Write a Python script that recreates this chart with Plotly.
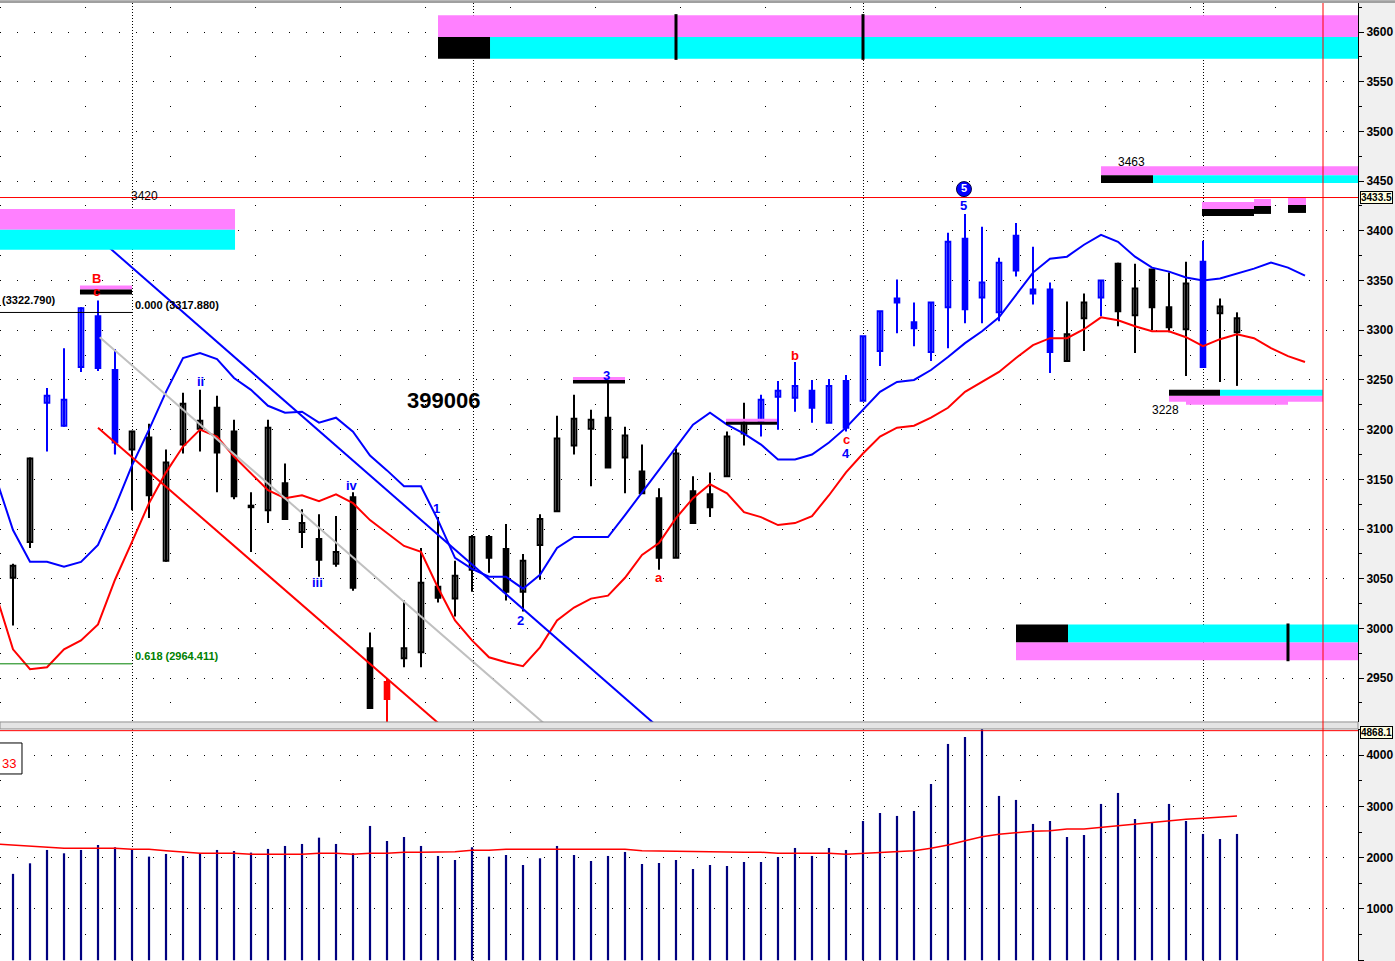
import plotly.graph_objects as go

# ---------------- data ----------------
bar_index = list(range(73))
open_px = [3051, 3087, 3227, 3204, 3263, 3314, 3260, 3180, 3192, 3068,
           3185, 3201, 3222, 3198, 3123, 3119, 3146, 3097, 3090, 3065,
           3132, 2980, 2946, 2970, 2976, 3042, 3030, 3059, 3092, 3080,
           3037, 3084, 3118, 3184, 3201, 3212, 3172, 3158, 3131, 3071,
           3138, 3135, 3153, 3196, 3207, 3233, 3232, 3239, 3207, 3249,
           3229, 3279, 3332, 3308, 3278, 3323, 3392, 3333, 3318, 3395,
           3341, 3341, 3269, 3312, 3333, 3367, 3315, 3361, 3323, 3301,
           3369, 3317, 3298]
high_px = [3065, 3172, 3242, 3282, 3323, 3330, 3281, 3199, 3206, 3180,
           3237, 3240, 3234, 3210, 3137, 3210, 3166, 3120, 3115, 3113,
           3137, 2996, 2950, 3028, 3081, 3112, 3068, 3094, 3094, 3105,
           3075, 3115, 3214, 3235, 3220, 3250, 3203, 3185, 3141, 3181,
           3153, 3157, 3198, 3227, 3235, 3249, 3268, 3250, 3251, 3255,
           3294, 3319, 3351, 3328, 3328, 3398, 3417, 3404, 3373, 3408,
           3384, 3348, 3329, 3337, 3350, 3368, 3367, 3361, 3358, 3369,
           3390, 3332, 3318]
low_px = [3003, 3081, 3178, 3203, 3258, 3259, 3175, 3119, 3111, 3067,
          3176, 3178, 3137, 3130, 3077, 3106, 3109, 3081, 3052, 3062,
          3038, 2919, 2900, 2961, 2961, 3026, 3012, 3037, 3056, 3028,
          3017, 3049, 3118, 3175, 3143, 3162, 3136, 3136, 3059, 3071,
          3106, 3112, 3153, 3184, 3193, 3200, 3218, 3207, 3207, 3198,
          3229, 3264, 3297, 3284, 3269, 3282, 3307, 3307, 3309, 3354,
          3326, 3257, 3269, 3279, 3314, 3304, 3277, 3300, 3298, 3254,
          3262, 3248, 3244]
close_px = [3063, 3171, 3234, 3230, 3322, 3262, 3187, 3198, 3134, 3167,
            3226, 3209, 3177, 3133, 3122, 3202, 3110, 3106, 3069, 3077,
            3041, 2920, 2929, 2980, 3046, 3031, 3053, 3092, 3071, 3037,
            3068, 3110, 3191, 3211, 3210, 3162, 3194, 3136, 3071, 3176,
            3106, 3122, 3193, 3207, 3230, 3239, 3244, 3222, 3244, 3202,
            3294, 3319, 3328, 3302, 3328, 3389, 3321, 3348, 3368, 3360,
            3337, 3278, 3296, 3328, 3350, 3319, 3342, 3323, 3303, 3347,
            3263, 3324, 3312]
# k = black, b = blue, r = red
candle_color = ("kk" + "bbbbb" + "kkkkkkkkkkkkkkk" + "r" + "kkkkkkkkkkkkkkkkkkkkk"
                + "bbbbbbbbbbbbbbbbbb" + "kk" + "b" + "kkkkk" + "b" + "kk")

ma_index = list(range(-1, 77))
upper_ma = [3151, 3099, 3067, 3067, 3062, 3067, 3084, 3122, 3164, 3200,
            3238, 3272, 3277, 3271, 3252, 3240, 3224, 3217, 3218, 3207,
            3212, 3198, 3174, 3159, 3143, 3143, 3109, 3071, 3060, 3052,
            3052, 3040, 3054, 3081, 3092, 3092, 3092, 3114, 3137, 3159,
            3182, 3205, 3217, 3205, 3196, 3185, 3170, 3170, 3175, 3187,
            3202, 3220, 3238, 3248, 3250, 3260, 3273, 3287, 3299, 3313,
            3336, 3358, 3372, 3374, 3386, 3396, 3389, 3374, 3363, 3359,
            3353, 3350, 3352, 3357, 3362, 3368, 3363, 3355]
lower_ma = [3034, 2979, 2959, 2961, 2979, 2988, 3004, 3049, 3087, 3126,
            3157, 3183, 3200, 3193, 3173, 3156, 3139, 3131, 3134, 3128,
            3135, 3126, 3109, 3096, 3083, 3077, 3041, 3008, 2988, 2971,
            2966, 2962, 2981, 3008, 3021, 3030, 3033, 3051, 3074, 3086,
            3111, 3131, 3145, 3136, 3117, 3112, 3104, 3106, 3113, 3134,
            3157, 3176, 3193, 3202, 3204, 3212, 3222, 3238, 3248, 3258,
            3272, 3285, 3292, 3292, 3301, 3313, 3310, 3304, 3299, 3299,
            3293, 3284, 3291, 3296, 3292, 3282, 3274, 3268]

volume = [1684, 1890, 2150, 2085, 2150, 2247, 2202, 2150, 2020, 2072,
          2033, 2085, 2150, 2130, 2098, 2170, 2228, 2267, 2390, 2267,
          2085, 2618, 2325, 2403, 2228, 2033, 1955, 2202, 2020, 2052,
          1857, 1988, 2228, 2052, 1935, 2033, 2111, 1877, 1896, 1955,
          1779, 1857, 1838, 1916, 1916, 2013, 2189, 2033, 2189, 2150,
          2715, 2871, 2813, 2910, 3436, 4216, 4352, 4650, 3203, 3125,
          2657, 2715, 2403, 2442, 3047, 3261, 2754, 2676, 3047, 2715,
          2462, 2364, 2462]
vol_ma_index = list(range(-1, 73))
volume_ma = [2265, 2247, 2228, 2202, 2182, 2182, 2182, 2182, 2163, 2163, 2137,
             2117, 2085, 2085, 2085, 2066, 2066, 2066, 2066, 2085, 2085,
             2066, 2085, 2085, 2105, 2105, 2117, 2117, 2144, 2144, 2163,
             2163, 2163, 2163, 2163, 2163, 2163, 2163, 2137, 2130, 2120,
             2117, 2117, 2105, 2105, 2105, 2085, 2085, 2085, 2085, 2066,
             2085, 2105, 2117, 2137, 2182, 2247, 2331, 2409, 2456, 2490,
             2515, 2525, 2559, 2559, 2592, 2620, 2645, 2680, 2720, 2748,
             2768, 2787, 2812]

# trend channel (start bar, start price, end bar, end price)
trend_lines = [
    (5.0, 3393, 38.0, 2900, "#0000ff"),
    (5.1, 3293, 31.2, 2905, "#c0c0c0"),
    (5.0, 3202, 25.0, 2905, "#ff0000"),
]

# target/support zones: bar from, bar to, price low, price high, colour
PINK, CYAN, BLACK = "#ff80ff", "#00ffff", "#000000"
RIGHT_END = 79.2
zones = [
    (25.0, RIGHT_END, 3595, 3617, PINK),
    (28.06, RIGHT_END, 3573, 3595, CYAN),
    (25.0, 28.06, 3573, 3595, BLACK),
    (-0.8, 13.06, 3401, 3422, PINK),
    (-0.8, 13.06, 3381, 3401, CYAN),
    (64.0, RIGHT_END, 3456, 3465, PINK),
    (64.0, 67.06, 3448, 3456, BLACK),
    (67.06, RIGHT_END, 3448, 3456, CYAN),
    (69.94, 73.0, 3422, 3429, PINK),
    (69.94, 73.0, 3415, 3422, BLACK),
    (73.0, 74.0, 3425, 3432, PINK),
    (73.0, 74.0, 3417, 3425, BLACK),
    (75.0, 76.06, 3426, 3434, PINK),
    (75.0, 76.06, 3418, 3426, BLACK),
    (68.0, 77.06, 3228, 3234, PINK),
    (69.0, 75.0, 3225, 3234, PINK),
    (68.0, 71.0, 3234, 3240, BLACK),
    (71.0, 77.06, 3234, 3240, CYAN),
    (59.0, RIGHT_END, 2968, 2986, PINK),
    (59.0, 62.06, 2986, 3004, BLACK),
    (62.06, RIGHT_END, 2986, 3004, CYAN),
    (3.94, 7.0, 3341, 3345, PINK),
    (3.94, 7.0, 3336, 3341, BLACK),
    (32.94, 36.0, 3250, 3253, PINK),
    (32.94, 36.0, 3246.5, 3250, BLACK),
    (41.94, 44.94, 3208, 3211, PINK),
    (41.94, 44.94, 3205, 3208, BLACK),
]
zone_ticks = [(39.0, 3572, 3618), (50.0, 3572, 3618), (75.0, 2967, 3005)]

wave_labels = [
    ("B", 4.94, 3352, "#ff0000"), ("c", 4.94, 3339, "#ff0000"),
    ("i", 6.0, 3180, "#0000ff"), ("ii", 11.0, 3248, "#0000ff"),
    ("iii", 17.94, 3046, "#0000ff"), ("iv", 19.94, 3144, "#0000ff"),
    ("1", 24.94, 3121, "#0000ff"), ("2", 29.88, 3008, "#0000ff"),
    ("3", 34.94, 3254, "#0000ff"), ("a", 38.0, 3051, "#ff0000"),
    ("b", 46.0, 3275, "#ff0000"), ("c", 49.0, 3190, "#ff0000"),
    ("4", 49.0, 3176, "#0000ff"), ("5", 55.94, 3425, "#0000ff"),
]
level_labels = [("3420", 7.76, 3435), ("3463", 65.8, 3469), ("3228", 67.8, 3220)]
fib_high, fib_618 = 3317.88, 2964.411
last_price = 3433.5
month_breaks = [7, 27.1, 50, 70]
cursor_bar = 77.06

# ---------------- figure ----------------
FONT = "Liberation Sans, Arial, sans-serif"
colmap = {"k": "#000000", "b": "#0000ff", "r": "#ff0000"}
fig = go.Figure()

# wicks
for code, col in colmap.items():
    wx, wy = [], []
    for i in bar_index:
        if candle_color[i] == code:
            wx += [i, i, None]
            wy += [low_px[i], high_px[i], None]
    fig.add_trace(go.Scatter(x=wx, y=wy, mode="lines", line=dict(color=col, width=2),
                             xaxis="x", yaxis="y"))
# bodies
for code, col in colmap.items():
    for hollow in (True, False):
        xs, bases, hs = [], [], []
        for i in bar_index:
            if candle_color[i] != code:
                continue
            if (close_px[i] > open_px[i]) != hollow:
                continue
            xs.append(i)
            bases.append(min(open_px[i], close_px[i]))
            hs.append(max(abs(close_px[i] - open_px[i]), 1.5))
        if xs:
            fig.add_trace(go.Bar(x=xs, y=hs, base=bases, width=0.27,
                                 marker=dict(color="white" if hollow else col,
                                             line=dict(color=col, width=2)),
                                 xaxis="x", yaxis="y"))

# moving averages
fig.add_trace(go.Scatter(x=ma_index, y=upper_ma, mode="lines",
                         line=dict(color="#0000ff", width=2), xaxis="x", yaxis="y"))
fig.add_trace(go.Scatter(x=ma_index, y=lower_ma, mode="lines",
                         line=dict(color="#ff0000", width=2), xaxis="x", yaxis="y"))
# trend channel
for x0, y0, x1, y1, col in trend_lines:
    fig.add_trace(go.Scatter(x=[x0, x1], y=[y0, y1], mode="lines",
                             line=dict(color=col, width=2), xaxis="x", yaxis="y"))
# fib lines
fig.add_trace(go.Scatter(x=[-0.8, 7], y=[fib_high, fib_high], mode="lines",
                         line=dict(color="black", width=1), xaxis="x", yaxis="y"))
fig.add_trace(go.Scatter(x=[-0.8, 7], y=[fib_618, fib_618], mode="lines",
                         line=dict(color="#008000", width=1), xaxis="x", yaxis="y"))

# volume
fig.add_trace(go.Bar(x=bar_index, y=volume, width=0.13, marker=dict(color="#000080", line=dict(width=0)),
                     xaxis="x2", yaxis="y2"))
fig.add_trace(go.Scatter(x=vol_ma_index, y=volume_ma, mode="lines",
                         line=dict(color="#ff0000", width=1.5), xaxis="x2", yaxis="y2"))

# circled wave 5
fig.add_trace(go.Scatter(x=[55.94], y=[3442], mode="markers+text", text=["5"],
                         textposition="middle center",
                         textfont=dict(family=FONT, size=11, color="white", weight="bold"),
                         marker=dict(size=15, color="#0000ff", line=dict(color="#000040", width=1)),
                         xaxis="x", yaxis="y"))

shapes = []
shapes.append(dict(type="rect", xref="paper", yref="paper", x0=1.0, x1=1.03, y0=0, y1=1.004,
                   fillcolor="#f0f0f0", line=dict(width=0), layer="below"))
shapes.append(dict(type="rect", xref="paper", yref="paper", x0=0, x1=1.0, y0=0.2422, y1=0.2495,
                   fillcolor="#e4e4e4", line=dict(color="#909090", width=1), layer="above"))
shapes.append(dict(type="rect", xref="paper", yref="paper", x0=0, x1=1.03, y0=1.0, y1=1.003,
                   fillcolor="#a0a0a0", line=dict(width=0)))
for x0, x1, y0, y1, col in zones:
    shapes.append(dict(type="rect", xref="x", yref="y", x0=x0, x1=x1, y0=y0, y1=y1,
                       fillcolor=col, line=dict(width=0), layer="above"))
for xt, y0, y1 in zone_ticks:
    shapes.append(dict(type="line", xref="x", yref="y", x0=xt, x1=xt, y0=y0, y1=y1,
                       line=dict(color="black", width=3)))
shapes.append(dict(type="line", xref="paper", yref="y", x0=0, x1=1, y0=last_price, y1=last_price,
                   line=dict(color="#ff0000", width=1)))
shapes.append(dict(type="line", xref="paper", yref="y2", x0=0, x1=1, y0=4475, y1=4475,
                   line=dict(color="#ff0000", width=1)))
shapes.append(dict(type="line", xref="x", yref="paper", x0=cursor_bar, x1=cursor_bar, y0=0, y1=1,
                   line=dict(color="#ff0000", width=1)))
shapes.append(dict(type="rect", xref="paper", yref="y2", x0=-0.01, x1=0.0162, y0=3631, y1=4235,
                   line=dict(color="black", width=1), fillcolor="white"))
fig.update_layout(shapes=shapes)

ann = []
for t, x, y, c in wave_labels:
    ann.append(dict(x=x, y=y, xref="x", yref="y", text=t, showarrow=False,
                    font=dict(family=FONT, size=13, color=c, weight="bold")))
for t, x, y in level_labels:
    ann.append(dict(x=x, y=y, xref="x", yref="y", text=t, showarrow=False,
                    font=dict(family=FONT, size=12, color="black")))
ann.append(dict(x=25.3, y=3229, xref="x", yref="y", text="399006", showarrow=False,
                font=dict(family=FONT, size=22, color="black", weight="bold")))
ann.append(dict(x=-0.76, y=3330, xref="x", yref="y", text="(3322.790)", showarrow=False,
                xanchor="left", font=dict(family=FONT, size=11, color="black", weight="bold")))
ann.append(dict(x=7.06, y=3325, xref="x", yref="y", text="0.000 (3317.880)", showarrow=False,
                xanchor="left", font=dict(family=FONT, size=11, color="black", weight="bold")))
ann.append(dict(x=7.06, y=2972, xref="x", yref="y", text="0.618 (2964.411)", showarrow=False,
                xanchor="left", font=dict(family=FONT, size=11, color="#008000", weight="bold")))
ann.append(dict(x=1.0015, y=last_price, xref="paper", yref="y", text="3433.5", showarrow=False,
                xanchor="left", bgcolor="#ffffe0", bordercolor="black", borderwidth=1, borderpad=0,
                font=dict(family=FONT, size=10, color="black", weight="bold")))
ann.append(dict(x=1.0015, y=4440, xref="paper", yref="y2", text="4868.1", showarrow=False,
                xanchor="left", bgcolor="#ffffe0", bordercolor="black", borderwidth=1, borderpad=0,
                font=dict(family=FONT, size=10, color="black", weight="bold")))
ann.append(dict(x=0.0, y=3830, xref="paper", yref="y2", text="33", showarrow=False,
                xanchor="left", font=dict(family=FONT, size=13, color="#ff0000")))
fig.update_layout(annotations=ann)

xcommon = dict(range=[-0.765, 79.118], showticklabels=False, ticks="", tickvals=month_breaks,
               showgrid=True, gridcolor="black", griddash="1px,2px", gridwidth=1,
               zeroline=False, showline=False)
tickfont = dict(family=FONT, size=12, color="black", weight="bold")
fig.update_layout(
    width=1395, height=961, margin=dict(l=0, r=37, t=3, b=0),
    paper_bgcolor="white", plot_bgcolor="white", showlegend=False,
    barmode="overlay", hovermode=False,
    xaxis=dict(domain=[0, 1], anchor="y", **xcommon),
    xaxis2=dict(domain=[0, 1], anchor="y2", matches="x", **xcommon),
    yaxis=dict(domain=[0.2495, 1], anchor="x", side="right", range=[2905.9, 3629.2],
               tick0=0, dtick=50, ticks="outside", ticklen=5, tickcolor="black", tickfont=tickfont,
               showgrid=True, gridcolor="black", griddash="1px,16px", gridwidth=1,
               minor=dict(dtick=25, ticks="outside", ticklen=3, tickcolor="black",
                          showgrid=True, gridcolor="black", griddash="1px,84px"),
               showline=True, linecolor="black", linewidth=1, zeroline=False),
    yaxis2=dict(domain=[0, 0.2422], anchor="x2", side="right", range=[-14, 4508],
                tick0=0, dtick=1000, ticks="outside", ticklen=5, tickcolor="black", tickfont=tickfont,
                showgrid=True, gridcolor="black", griddash="1px,16px", gridwidth=1,
                minor=dict(dtick=500, ticks="outside", ticklen=3, tickcolor="black",
                           showgrid=True, gridcolor="black", griddash="1px,84px"),
                showline=True, linecolor="black", linewidth=1, zeroline=False),
)

fig.write_html("out.html", config={"displayModeBar": False},
               post_script="document.body.style.margin='0';document.body.style.overflow='hidden';")
